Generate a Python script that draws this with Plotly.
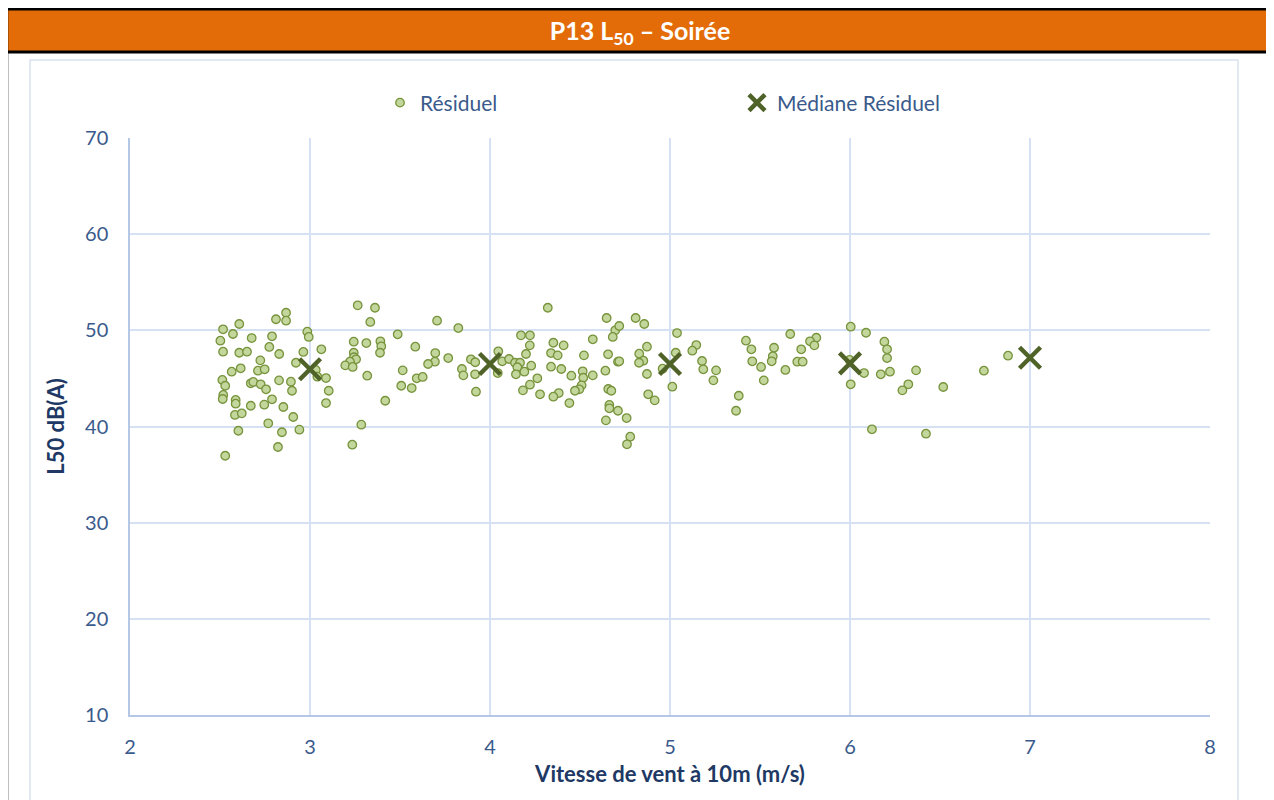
import plotly.graph_objects as go

# ---------------- data ----------------
resid_x = [3.265, 3.361, 2.867, 2.867, 2.811, 3.335, 2.607, 2.517, 2.572, 2.985,
           2.993, 2.676, 2.789, 3.487, 2.502, 3.243, 3.313, 3.391, 3.396, 3.389,
           3.585, 2.774, 2.517, 2.607, 2.650, 2.829, 2.963, 3.063, 3.243, 3.244,
           3.256, 3.222, 3.196, 3.237, 2.724, 2.922, 2.565, 2.615, 2.711, 2.748,
           3.032, 3.041, 3.089, 3.318, 3.515, 3.593, 2.513, 2.529, 2.671, 2.685,
           2.726, 2.756, 2.828, 2.894, 2.900, 3.104, 3.507, 3.565, 2.518, 2.515,
           2.587, 2.587, 2.789, 2.746, 2.671, 2.852, 3.089, 3.418, 2.583, 2.621,
           2.907, 2.768, 3.285, 2.602, 2.844, 2.941, 3.235, 2.822, 2.529,
           4.321, 4.648, 3.706, 3.824, 4.172, 4.222, 4.696, 4.682, 4.571, 4.352,
           4.409, 4.221, 3.696, 4.339, 4.376, 4.200, 4.522, 4.656, 3.768, 3.694,
           3.656, 3.894, 3.918, 4.046, 4.068, 4.106, 4.139, 4.167, 4.152, 4.229,
           4.191, 4.339, 4.396, 4.515, 4.641, 4.711, 3.844, 3.852, 3.917, 4.043,
           4.144, 4.263, 4.452, 4.518, 4.571, 3.626, 4.222, 4.509, 4.496, 4.472,
           4.657, 4.674, 4.183, 3.922, 4.278, 4.382, 4.352, 4.441, 4.663, 4.663,
           4.711, 4.644,
           4.809, 4.857, 4.718, 5.039, 5.668, 5.422, 5.146, 5.124, 5.452, 5.578,
           5.571, 4.872, 4.829, 4.852, 4.828, 4.718, 5.032, 5.178, 5.457, 5.565,
           5.707, 5.506, 5.185, 5.256, 5.641, 4.959, 4.872, 5.241, 5.521, 5.013,
           4.879, 4.915, 5.382, 5.367, 4.759, 4.779, 4.761,
           6.004, 6.089, 5.813, 5.778, 5.802, 6.191, 6.206, 6.206, 5.729, 5.737,
           5.998, 6.078, 6.171, 6.222, 6.367, 6.324, 6.291, 6.518, 6.004, 6.122,
           6.422, 6.744, 6.878]

resid_y = [52.60, 52.35, 51.83, 51.00, 51.15, 50.87, 50.66, 50.11, 49.62, 49.86,
           49.31, 49.20, 49.38, 49.59, 48.92, 48.82, 48.68, 48.86, 48.34, 47.67,
           48.30, 48.27, 47.78, 47.67, 47.78, 47.54, 47.75, 48.03, 47.67, 47.20,
           46.99, 46.74, 46.36, 46.19, 46.88, 46.63, 45.70, 46.05, 45.80, 45.95,
           45.88, 45.18, 45.04, 45.28, 45.84, 45.01, 44.84, 44.24, 44.49, 44.63,
           44.39, 43.87, 44.80, 44.66, 43.72, 43.72, 44.24, 44.00, 43.28, 42.86,
           42.76, 42.37, 42.83, 42.27, 42.16, 42.03, 42.44, 42.68, 41.20, 41.37,
           40.99, 40.33, 40.19, 39.56, 39.40, 39.67, 38.11, 37.87, 36.96,
           52.35, 51.28, 51.00, 50.24, 49.48, 49.48, 50.00, 49.31, 49.07, 48.71,
           48.44, 48.44, 47.64, 47.64, 47.40, 47.54, 47.40, 47.51, 47.12, 46.74,
           46.50, 46.99, 46.68, 47.82, 46.78, 47.02, 46.63, 46.63, 46.16, 46.32,
           45.70, 46.22, 45.98, 45.74, 45.80, 46.74, 45.98, 45.32, 45.43, 45.56,
           45.43, 45.01, 45.28, 45.07, 45.32, 45.15, 44.35, 44.28, 43.87, 43.72,
           43.90, 43.72, 43.76, 43.62, 43.35, 43.48, 43.10, 42.44, 42.24, 41.89,
           41.64, 40.64,
           51.28, 50.66, 50.45, 49.72, 49.62, 48.92, 48.47, 47.88, 48.03, 48.19,
           47.30, 48.30, 47.57, 46.84, 46.63, 46.78, 47.67, 46.81, 46.78, 46.78,
           46.74, 46.19, 45.95, 45.84, 45.88, 46.01, 45.46, 44.80, 44.80, 44.14,
           43.35, 42.72, 43.20, 41.64, 40.88, 38.94, 38.15,
           50.38, 49.75, 49.23, 48.86, 48.44, 48.82, 48.03, 47.12, 48.03, 46.74,
           46.92, 45.56, 45.43, 45.70, 45.84, 44.39, 43.76, 44.11, 44.39, 39.71,
           39.25, 45.80, 47.36]

median_x = [3, 4, 5, 6, 7]
median_y = [45.95, 46.50, 46.50, 46.57, 47.15]

x_ticks = [2, 3, 4, 5, 6, 7, 8]
y_ticks = [10, 20, 30, 40, 50, 60, 70]

series_names = ["Résiduel", "Médiane Résiduel"]
chart_title = "P13 L<sub>50</sub> – Soirée"
x_title = "Vitesse de vent à 10m (m/s)"
y_title = "L50 dB(A)"

# ---------------- layout helpers ----------------
# The page body has an 8px margin, so the figure starts 8px in from the
# window's top-left corner; the figure is sized to end at the window edge.
OFF = 8
WIN_W, WIN_H = 1274, 800
W, H = WIN_W - OFF, WIN_H - OFF
# plot area in window pixel coordinates
PL, PR, PT, PB = 130, 1210, 138, 715


def px(x):
    return (x - PL) / (PR - PL)


def py(y):
    return (PB - y) / (PB - PT)


FONT = "Lato, 'Open Sans', sans-serif"
TICK_COL = "#3A5A8C"
TITLE_COL = "#203864"
GRID = "#D6E2F3"
AXIS = "#B4C7E7"

fig = go.Figure()
fig.add_trace(go.Scatter(
    x=resid_x, y=resid_y, mode="markers", name=series_names[0],
    marker=dict(size=8.5, color="#C3D69B", line=dict(color="#77933C", width=1.3)),
))
fig.add_trace(go.Scatter(
    x=median_x, y=median_y, mode="markers", name=series_names[1],
    marker=dict(size=21, symbol="x-thin", color="#4F6228",
                line=dict(color="#4F6228", width=4.5)),
))

shapes = [
    # orange header band
    dict(type="rect", x0=px(7), x1=px(1269), y0=py(8), y1=py(52),
         fillcolor="#E36C09", line=dict(width=0), layer="below"),
    dict(type="line", x0=px(6), x1=px(1270), y0=py(9), y1=py(9),
         line=dict(color="black", width=3)),
    dict(type="line", x0=px(6), x1=px(1270), y0=py(52), y1=py(52),
         line=dict(color="black", width=3)),
    dict(type="line", x0=px(7), x1=px(7), y0=py(7), y1=py(802),
         line=dict(color="black", width=2.5)),
    dict(type="line", x0=px(1269), x1=px(1269), y0=py(7), y1=py(802),
         line=dict(color="black", width=2.5)),
    # inner chart frame
    dict(type="rect", x0=px(30), x1=px(1238), y0=py(60), y1=py(812),
         line=dict(color="#D9E2F0", width=1.5), fillcolor="rgba(0,0,0,0)",
         layer="below"),
]
for s in shapes:
    s["xref"] = "paper"
    s["yref"] = "paper"

fig.update_layout(
    width=W, height=H,
    margin=dict(l=PL - OFF, r=WIN_W - PR, t=PT - OFF, b=WIN_H - PB),
    paper_bgcolor="white", plot_bgcolor="white",
    font=dict(family=FONT, color=TICK_COL, size=20),
    title=dict(text=chart_title, x=(640 - OFF) / W, xanchor="center", xref="container",
               y=1 - (31 - OFF) / H, yanchor="middle", yref="container",
               font=dict(family=FONT, size=25, color="white", weight="bold")),
    shapes=shapes,
    showlegend=True,
    legend=dict(orientation="h", x=px(380), y=py(103), xanchor="left",
                yanchor="middle", entrywidth=312, entrywidthmode="pixels",
                font=dict(size=21, color=TICK_COL), bgcolor="rgba(0,0,0,0)"),
    xaxis=dict(range=[2, 8], tickvals=x_ticks, ticktext=[str(v) for v in x_ticks],
               showgrid=True, gridcolor=GRID, gridwidth=1.5,
               showline=True, linecolor=AXIS, linewidth=1.5, zeroline=False,
               ticks="", ticklabelstandoff=13,
               tickfont=dict(size=20, color=TICK_COL),
               title=dict(text=x_title, standoff=10,
                          font=dict(size=22, color=TITLE_COL, weight="bold"))),
    yaxis=dict(range=[10, 70], tickvals=y_ticks, ticktext=[str(v) for v in y_ticks],
               showgrid=True, gridcolor=GRID, gridwidth=1.5,
               showline=True, linecolor=AXIS, linewidth=1.5, zeroline=False,
               ticks="", ticklabelstandoff=16,
               tickfont=dict(size=20, color=TICK_COL),
               title=dict(text=y_title, standoff=14,
                          font=dict(size=22, color=TITLE_COL, weight="bold"))),
)

fig.write_html("out.html")
